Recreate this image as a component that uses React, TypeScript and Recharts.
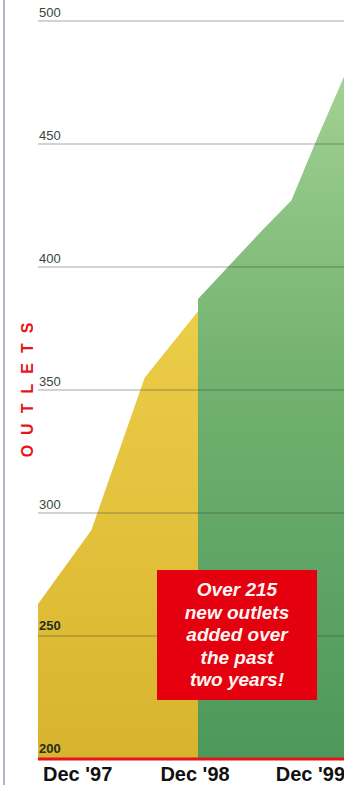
import React from "react";
import { ComposedChart, Area, XAxis, YAxis, ReferenceLine } from "recharts";

// ---- data ----
const months = [0, 4, 8, 12, 17, 19, 21, 23, 24];
const yellowValues: (number | null)[] = [263, 293, 355, 382, null, null, null, null, null];
const greenValues: (number | null)[] = [null, null, null, 387, 416, 427, 453, 478, 490];
const xTicks = [0, 12, 24];
const xTickLabels = ["Dec '97", "Dec '98", "Dec '99"];
const yTicks = [250, 300, 350, 400, 450, 500];
const yBase = 200;
const calloutLines = ["Over 215", "new outlets", "added over", "the past", "two years!"];
const axisTitle = "OUTLETS";

const data = months.map((m, i) => ({ m, yellow: yellowValues[i], green: greenValues[i] }));

const XTick = (props: any) => {
  const { x, y, payload } = props;
  const anchors = ["start", "middle", "end"];
  const dxs = [5, -3, -13];
  const i = xTicks.indexOf(payload.value);
  return (
    <text
      x={x + dxs[i]}
      y={y + 20}
      textAnchor={anchors[i] as any}
      fontFamily="'Liberation Sans Narrow', 'Liberation Sans', Arial, sans-serif"
      fontWeight="bold"
      fontSize={20}
      fill="#111"
    >
      {xTickLabels[i]}
    </text>
  );
};

const YLabel = (props: any) => {
  const { viewBox, text, bold } = props;
  const vb = viewBox || { x: 0, y: 0 };
  return (
    <text
      x={vb.x + 1}
      y={vb.y - (bold ? 6 : 4)}
      fontFamily="'Liberation Sans', Arial, sans-serif"
      fontSize={13}
      fontWeight={bold ? "bold" : "normal"}
      fill={bold ? "#22301a" : "#3a4540"}
    >
      {text}
    </text>
  );
};

export default function App() {
  return (
    <div
      style={{
        position: "absolute",
        left: 0,
        top: 0,
        width: 344,
        height: 785,
        overflow: "hidden",
        background: "#fff",
      }}
    >
      <div
        style={{
          position: "absolute",
          left: 3,
          top: 0,
          width: 2,
          height: 785,
          background: "#b4b3d6",
        }}
      />
      <ComposedChart
        width={378}
        height={785}
        data={data}
        margin={{ top: 21, right: 20, bottom: 0, left: 38 }}
      >
        <defs>
          <linearGradient id="gYellow" x1="0" y1="0" x2="0" y2="1">
            <stop offset="0%" stopColor="#eccd48" />
            <stop offset="100%" stopColor="#d8b42e" />
          </linearGradient>
          <linearGradient id="gGreen" x1="0" y1="0" x2="0" y2="1">
            <stop offset="0%" stopColor="#a6d596" />
            <stop offset="45%" stopColor="#74b270" />
            <stop offset="100%" stopColor="#4c985a" />
          </linearGradient>
        </defs>
        <XAxis
          dataKey="m"
          type="number"
          domain={[0, 24]}
          ticks={xTicks}
          axisLine={false}
          tickLine={false}
          tickSize={0}
          height={26}
          tick={<XTick />}
          interval={0}
        />
        <YAxis hide domain={[yBase, 500]} type="number" />
        <Area
          type="linear"
          dataKey="yellow"
          stroke="none"
          fill="url(#gYellow)"
          fillOpacity={1}
          isAnimationActive={false}
          connectNulls={false}
          baseValue={yBase}
        />
        <Area
          type="linear"
          dataKey="green"
          stroke="none"
          fill="url(#gGreen)"
          fillOpacity={1}
          isAnimationActive={false}
          connectNulls={false}
          baseValue={yBase}
        />
        {yTicks.map((v) => (
          <ReferenceLine
            key={v}
            y={v}
            stroke="#3a3a3a"
            strokeOpacity={0.3}
            strokeWidth={1.3}
            label={<YLabel text={String(v)} bold={v <= 250} />}
          />
        ))}
        <ReferenceLine
          y={yBase}
          stroke="#e8121a"
          strokeWidth={3}
          label={<YLabel text={String(yBase)} bold />}
        />
      </ComposedChart>
      <div
        style={{
          position: "absolute",
          left: 28,
          top: 390,
          transform: "translate(-50%, -50%) rotate(-90deg)",
          whiteSpace: "nowrap",
          fontFamily: "'Liberation Sans', Arial, sans-serif",
          fontWeight: "bold",
          fontSize: 16,
          letterSpacing: 10,
          paddingLeft: 10,
          color: "#e8141c",
          lineHeight: "16px",
        }}
      >
        {axisTitle}
      </div>
      <div
        style={{
          position: "absolute",
          left: 157,
          top: 570,
          width: 160,
          height: 130,
          background: "#e4000e",
          boxSizing: "border-box",
          paddingTop: 9,
          textAlign: "center",
          color: "#fff6f2",
          fontFamily: "'Liberation Sans', Arial, sans-serif",
          fontWeight: "bold",
          fontStyle: "italic",
          fontSize: 19,
          lineHeight: "22.5px",
        }}
      >
        {calloutLines.map((l) => (
          <div key={l}>{l}</div>
        ))}
      </div>
    </div>
  );
}
